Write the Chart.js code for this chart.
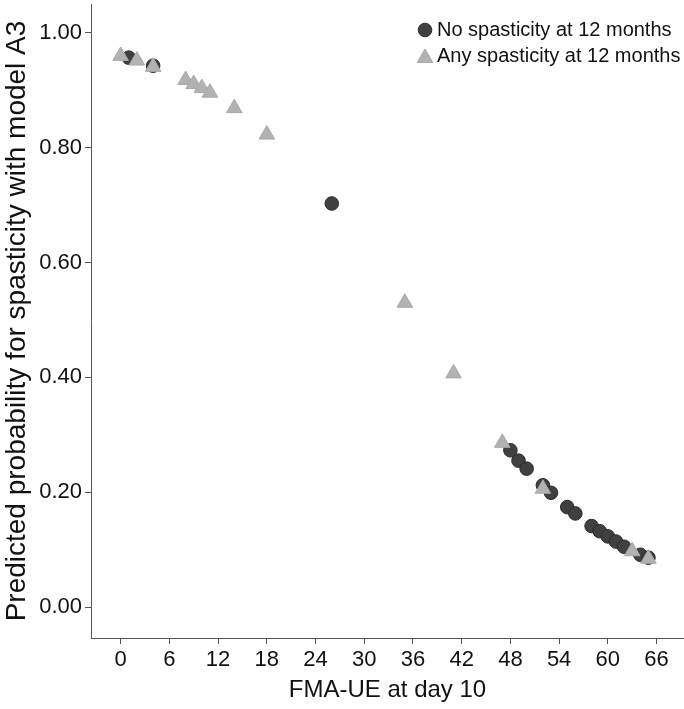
<!DOCTYPE html>
<html><head><meta charset="utf-8">
<script src="https://cdn.jsdelivr.net/npm/chart.js@4/dist/chart.umd.min.js"></script>
<style>html,body{margin:0;padding:0;background:#fff}#wrap{width:684px;height:709px;position:relative}</style>
</head><body><div id="wrap"><canvas id="c" width="684" height="709"></canvas></div>
<script>
const seriesLabels = ['No spasticity at 12 months', 'Any spasticity at 12 months'];
const noSpasX = [1, 4, 26, 48, 49, 50, 52, 53, 55, 56, 58, 59, 60, 61, 62, 64, 65];
const noSpasY = [0.957, 0.943, 0.703, 0.273, 0.255, 0.241, 0.212, 0.199, 0.174, 0.163, 0.141, 0.132, 0.123, 0.114, 0.105, 0.091, 0.086];
const anySpasX = [0, 2, 4, 8, 9, 10, 11, 14, 18, 35, 41, 47, 52, 63, 65];
const anySpasY = [0.960, 0.952, 0.941, 0.918, 0.911, 0.904, 0.896, 0.869, 0.823, 0.530, 0.407, 0.286, 0.206, 0.097, 0.084];
const xTicks = [0, 6, 12, 18, 24, 30, 36, 42, 48, 54, 60, 66];
const yTicks = [0, 0.2, 0.4, 0.6, 0.8, 1.0];
const xTitle = 'FMA-UE at day 10';
const yTitle = 'Predicted probability for spasticity with model A3';

const FONT = "'Liberation Sans', Arial, sans-serif";
const AXIS = '#555555';
const TEXT = '#111111';

const toPts = (xs, ys) => xs.map((x, i) => ({x: x, y: ys[i]}));

const styles = [
  {pointStyle: 'circle', radius: 6.8, bg: '#404040', border: '#2b2b2b'},
  {pointStyle: 'triangle', radius: 9, bg: '#b2b2b2', border: '#a9a9a9'}
];

const noPad = s => { s.paddingTop = 0; s.paddingBottom = 0; s.paddingLeft = 0; s.paddingRight = 0; };

const insideLegend = {
  id: 'insideLegend',
  afterDraw(chart) {
    const ctx = chart.ctx;
    ctx.save();
    ctx.font = "20px " + FONT;
    ctx.textBaseline = 'middle';
    const rows = [30, 56];
    seriesLabels.forEach((lab, i) => {
      const st = styles[i];
      ctx.fillStyle = st.bg;
      ctx.strokeStyle = st.border;
      ctx.lineWidth = 1;
      Chart.helpers.drawPoint(ctx, {pointStyle: st.pointStyle, radius: st.radius, rotation: 0, borderWidth: 1}, 425, rows[i] + (i === 1 ? 2 : 0));
      ctx.fillStyle = TEXT;
      ctx.textAlign = 'left';
      ctx.fillText(lab, 437, rows[i]);
    });
    ctx.restore();
  }
};

new Chart(document.getElementById('c'), {
  type: 'scatter',
  data: {
    datasets: [
      {label: seriesLabels[1], data: toPts(anySpasX, anySpasY), pointStyle: styles[1].pointStyle,
       pointRadius: styles[1].radius, pointHoverRadius: styles[1].radius,
       backgroundColor: styles[1].bg, borderColor: styles[1].border, borderWidth: 1},
      {label: seriesLabels[0], data: toPts(noSpasX, noSpasY), pointStyle: styles[0].pointStyle,
       pointRadius: styles[0].radius, pointHoverRadius: styles[0].radius,
       backgroundColor: styles[0].bg, borderColor: styles[0].border, borderWidth: 1}
    ]
  },
  options: {
    responsive: false,
    animation: false,
    devicePixelRatio: 1,
    layout: {autoPadding: false, padding: {top: 4, right: 0, left: 0, bottom: 0}},
    plugins: {legend: {display: false}, tooltip: {enabled: false}},
    scales: {
      x: {
        type: 'linear', min: -3.65, max: 69.38,
        border: {display: true, color: AXIS, width: 1},
        grid: {display: true, drawOnChartArea: false, drawTicks: true, tickLength: 6, color: AXIS},
        ticks: {font: {family: FONT, size: 22}, color: TEXT, padding: 3, maxRotation: 0, autoSkip: false},
        title: {display: true, text: xTitle, font: {family: FONT, size: 24}, color: TEXT, padding: {top: 0, bottom: 4}},
        afterBuildTicks: s => { s.ticks = xTicks.map(v => ({value: v})); },
        afterFit: s => { s.height = 71; noPad(s); }
      },
      y: {
        type: 'linear', min: -0.054, max: 1.0505,
        border: {display: true, color: AXIS, width: 1},
        grid: {display: true, drawOnChartArea: false, drawTicks: true, tickLength: 6, color: AXIS},
        ticks: {font: {family: FONT, size: 22}, color: TEXT, padding: 3, callback: v => Number(v).toFixed(2)},
        title: {display: true, text: yTitle, font: {family: FONT, size: 28}, color: TEXT, padding: {top: 0, bottom: 0}},
        afterBuildTicks: s => { s.ticks = yTicks.map(v => ({value: v})); },
        afterFit: s => { s.width = 91; noPad(s); }
      }
    }
  },
  plugins: [insideLegend]
});
</script>
</body></html>
